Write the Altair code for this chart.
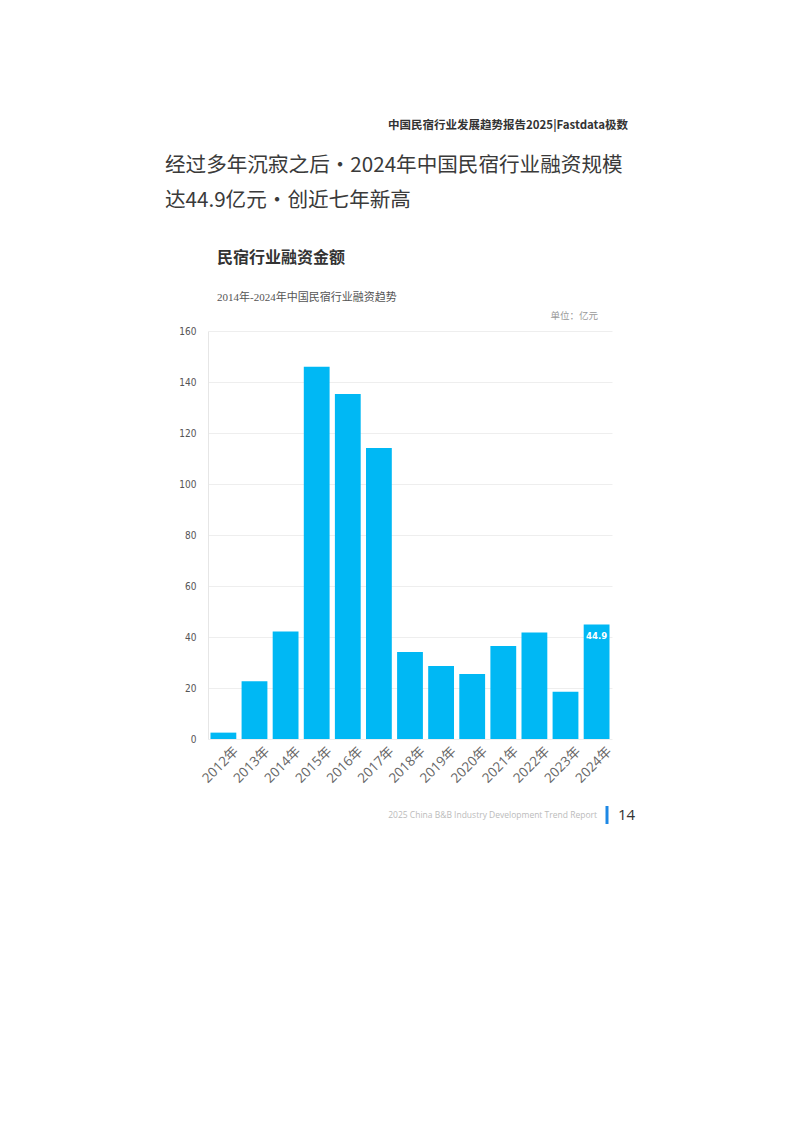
import altair as alt
import pandas as pd

years = ["2012年", "2013年", "2014年", "2015年", "2016年", "2017年", "2018年",
         "2019年", "2020年", "2021年", "2022年", "2023年", "2024年"]
values = [2.5, 22.6, 42.2, 146.0, 135.3, 114.1, 34.1, 28.6, 25.5, 36.5, 41.8, 18.5, 44.9]
y_ticks = [0, 20, 40, 60, 80, 100, 120, 140, 160]

header_text = "中国民宿行业发展趋势报告2025|Fastdata极数"
headline_1 = "经过多年沉寂之后·2024年中国民宿行业融资规模"
headline_2 = "达44.9亿元·创近七年新高"
chart_title = "民宿行业融资金额"
subtitle = "2014年-2024年中国民宿行业融资趋势"
unit_text = "单位：亿元"
footer_text = "2025 China B&B Industry Development Trend Report"
page_no = "14"

df = pd.DataFrame({"year": years, "value": values})
df["label"] = ["" for _ in years[:-1]] + ["44.9"]

BLUE = "#00B8F4"
CJK = "Noto Sans CJK SC"

x_enc = alt.X("year:N", sort=years, title=None,
              scale=alt.Scale(paddingInner=0.17, paddingOuter=0.08),
              axis=alt.Axis(labelAngle=-45, labelFont="Open Sans, " + CJK, labelFontSize=13.5,
                            labelColor="#666666", domain=False, ticks=False, labelPadding=5,
                            labelOffset=8))
y_enc = alt.Y("value:Q", title=None,
              scale=alt.Scale(domain=[0, 160], nice=False),
              axis=alt.Axis(values=y_ticks, labelFont="DejaVu Sans Condensed", labelFontSize=10,
                            labelColor="#555555", gridColor="#eeeeee", domainColor="#e6e6e6",
                            ticks=False, labelPadding=12))

bars = alt.Chart(df).mark_bar(color=BLUE).encode(x=x_enc, y=y_enc)

bar_label = alt.Chart(df).mark_text(color="white", font="DejaVu Sans Condensed", fontWeight="bold",
                                   fontSize=9.5, baseline="top", dy=6).encode(
    x=alt.X("year:N", sort=years), y="value:Q", text="label:N")


def txt(text, x, y, size, color="#333333", align="left", weight="normal", font=CJK):
    return alt.Chart(alt.Data(values=[{}])).mark_text(
        align=align, baseline="middle", fontSize=size, color=color, fontWeight=weight, font=font
    ).encode(x=alt.value(x), y=alt.value(y), text=alt.value(text))


layers = [
    bars,
    bar_label,
    txt(header_text, 420, -205, 11.5, color="#333333", align="right", weight="bold"),
    txt(headline_1, -43, -165, 20.6, color="#3a3a3a"),
    txt(headline_2, -43, -130, 20.6, color="#3a3a3a"),
    txt(chart_title, 9, -73, 16, color="#333333", weight="bold"),
    txt(subtitle, 9, -33, 11, color="#555555", font="Liberation Serif, " + CJK),
    txt(unit_text, 390, -15, 9.5, color="#999999", align="right"),
    txt(footer_text, 389, 484, 8.5, color="#bbbbbb", align="right", font="Open Sans"),
    txt(page_no, 410, 484, 15, color="#333333", font="Open Sans", weight=500),
    alt.Chart(alt.Data(values=[{}])).mark_rule(color="#1E88E5", strokeWidth=3).encode(
        x=alt.value(399), y=alt.value(475), y2=alt.value(493)),
]

chart = alt.layer(*layers).properties(
    width=404, height=408,
    padding={"left": 208, "top": 331, "right": 182, "bottom": 384},
    autosize=alt.AutoSizeParams(type="none"),
    background="white",
).configure_view(strokeWidth=0)

chart.save("out.html", embed_options={"renderer": "svg", "actions": False})
